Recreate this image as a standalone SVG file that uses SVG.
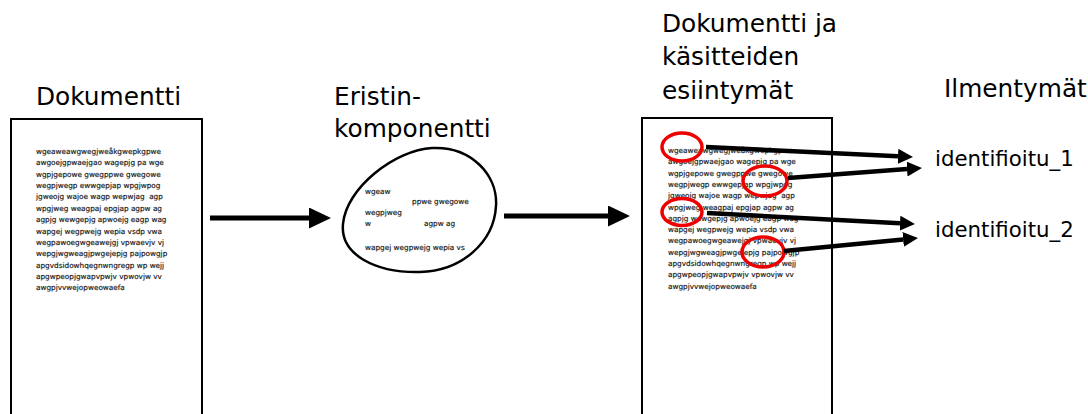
<svg xmlns="http://www.w3.org/2000/svg" width="1088" height="414" viewBox="0 0 1088 414">
  <style>
    .title { font-family: "DejaVu Sans", sans-serif; font-size: 24.8px; fill: #000; }
    .ident { font-family: "DejaVu Sans", sans-serif; font-size: 21.3px; fill: #000; }
    .small { font-family: "DejaVu Sans", sans-serif; font-size: 7.3px; fill: #1a1a1a; stroke: #1a1a1a; stroke-width: 0.18; white-space: pre; }
    .doc { fill: #fff; stroke: #000; stroke-width: 2; }
    .blob { fill: #fff; stroke: #000; stroke-width: 2.5; }
    .mark { fill: none; stroke: #e00; stroke-width: 3.5; }
    .big { stroke: #000; stroke-width: 5; fill: none; marker-end: url(#headBig); }
    .thin { stroke: #000; stroke-width: 4.5; fill: none; marker-end: url(#headSmall); }
  </style>
  <defs>
    <marker id="headBig" viewBox="0 0 22 21" refX="0" refY="10.5" markerWidth="22" markerHeight="21" markerUnits="userSpaceOnUse" orient="auto">
      <path d="M0,0 L22,10.5 L0,21 Z" fill="#000"/>
    </marker>
    <marker id="headSmall" viewBox="0 0 15 15" refX="0" refY="7.5" markerWidth="15" markerHeight="15" markerUnits="userSpaceOnUse" orient="auto">
      <path d="M0,0 L15,7.5 L0,15 Z" fill="#000"/>
    </marker>
  </defs>
  <rect width="1088" height="414" fill="#fff"/>

  <!-- source document -->
  <g id="document">
    <text class="title" x="36" y="105">Dokumentti</text>
    <rect class="doc" x="11" y="119" width="191" height="310"/>
    <text class="small" x="36" y="154">wgeaweawgwegjweåkgwepkgpwe</text>
    <text class="small" x="36" y="165.4">awgoejgpwaejgao wagepjg pa wge</text>
    <text class="small" x="36" y="176.7">wgpjgepowe gwegppwe gwegowe</text>
    <text class="small" x="36" y="188.1">wegpjwegp ewwgepjap wpgjwpog</text>
    <text class="small" x="36" y="199.4">jgweojg wajoe wagp wepwjag  agp</text>
    <text class="small" x="36" y="210.8">wpgjweg weagpaj epgjap agpw ag</text>
    <text class="small" x="36" y="222.1">agpjg wewgepjg apwoejg eagp wag</text>
    <text class="small" x="36" y="233.5">wapgej wegpwejg wepia vsdp vwa</text>
    <text class="small" x="36" y="244.8">wegpawoegwgeawejgj vpwaevjv vj</text>
    <text class="small" x="36" y="256.2">wepgjwgweagjpwgejepjg pajpowgjp</text>
    <text class="small" x="36" y="267.5">apgvdsidowhqegnwngregp wp wejj</text>
    <text class="small" x="36" y="278.9">apgwpeopjgwapvpwjv vpwovjw vv</text>
    <text class="small" x="36" y="290.2">awgpjvvwejopweowaefa</text>
  </g>

  <!-- extraction component -->
  <g id="component">
    <text class="title" x="334" y="105">Eristin-</text>
    <text class="title" x="334" y="137">komponentti</text>
    <path class="blob" d="M432,148 C472,146 498,176 496,206 C494,242 462,271 420,272 C376,273 340,255 343,224 C346,188 395,150 432,148 Z"/>
    <text class="small" x="365" y="194">wgeaw</text>
    <text class="small" x="412" y="204">ppwe gwegowe</text>
    <text class="small" x="365" y="215">wegpjweg</text>
    <text class="small" x="365" y="226">w</text>
    <text class="small" x="424" y="226">agpw ag</text>
    <text class="small" x="365" y="250">wapgej wegpwejg wepia vs</text>
  </g>

  <!-- document with marked concept occurrences -->
  <g id="annotated">
    <text class="title" x="662" y="32">Dokumentti ja</text>
    <text class="title" x="662" y="65">käsitteiden</text>
    <text class="title" x="662" y="99">esiintymät</text>
    <rect class="doc" x="642" y="118" width="190" height="310"/>
    <text class="small" x="668" y="153">wgeaweawgwegjweåkgwepkgpwe</text>
    <text class="small" x="668" y="164.3">awgoejgpwaejgao wagepjg pa wge</text>
    <text class="small" x="668" y="175.6">wgpjgepowe gwegppwe gwegowe</text>
    <text class="small" x="668" y="186.9">wegpjwegp ewwgepjap wpgjwpog</text>
    <text class="small" x="668" y="198.2">jgweojg wajoe wagp wepwjag  agp</text>
    <text class="small" x="668" y="209.5">wpgjweg weagpaj epgjap agpw ag</text>
    <text class="small" x="668" y="220.8">agpjg wewgepjg apwoejg eagp wag</text>
    <text class="small" x="668" y="232.1">wapgej wegpwejg wepia vsdp vwa</text>
    <text class="small" x="668" y="243.4">wegpawoegwgeawejgj vpwaevjv vj</text>
    <text class="small" x="668" y="254.7">wepgjwgweagjpwgejepjg pajpowgjp</text>
    <text class="small" x="668" y="266">apgvdsidowhqegnwngregp wp wejj</text>
    <text class="small" x="668" y="277.3">apgwpeopjgwapvpwjv vpwovjw vv</text>
    <text class="small" x="668" y="288.6">awgpjvvwejopweowaefa</text>
    <ellipse class="mark" cx="682" cy="147" rx="20" ry="14"/>
    <ellipse class="mark" cx="765" cy="181" rx="22" ry="15"/>
    <ellipse class="mark" cx="682" cy="212" rx="20" ry="13.5"/>
    <ellipse class="mark" cx="763" cy="252" rx="21" ry="15"/>
  </g>

  <!-- identified instances -->
  <g id="instances">
    <text class="title" x="944" y="97">Ilmentymät</text>
    <text class="ident" x="935" y="166">identifioitu_1</text>
    <text class="ident" x="935" y="237">identifioitu_2</text>
  </g>

  <g id="connectors">
    <line class="big" x1="210" y1="218" x2="309" y2="218"/>
    <line class="big" x1="504" y1="216" x2="608" y2="216"/>
    <line class="thin" x1="706" y1="147" x2="898" y2="156.3"/>
    <line class="thin" x1="788" y1="178" x2="907" y2="169.1"/>
    <line class="thin" x1="707" y1="213" x2="900" y2="223.2"/>
    <line class="thin" x1="784" y1="251" x2="903.1" y2="239.4"/>
  </g>
</svg>
